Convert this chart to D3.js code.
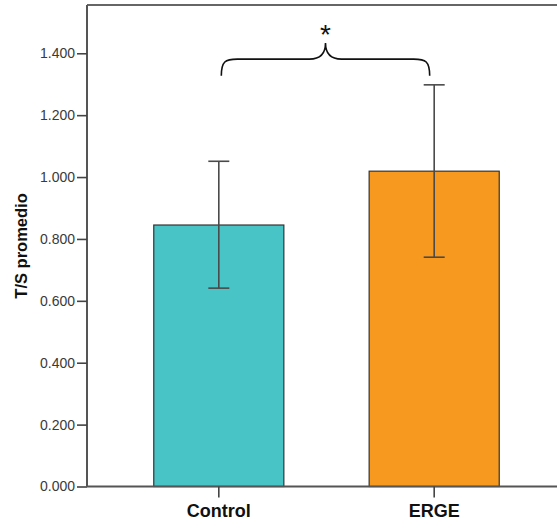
<!DOCTYPE html>
<html>
<head>
<meta charset="utf-8">
<script src="https://cdn.jsdelivr.net/npm/d3@7"></script>
<style>
  html, body { margin: 0; padding: 0; background: #fff; }
  svg { display: block; }
</style>
</head>
<body>
<svg id="chart" width="557" height="524"></svg>
<script>
// ---- data ----
const categories = ["Control", "ERGE"];
const means = [0.845, 1.019];
const errLow = [0.641, 0.741];
const errHigh = [1.051, 1.298];
const barColors = ["#48C3C6", "#F8991F"];
const yTicks = [0, 0.2, 0.4, 0.6, 0.8, 1.0, 1.2, 1.4];
const yTitle = "T/S promedio";
const signif = "*";
const braceLevels = [1.327, 1.381, 1.433]; // brace ends, arm, tip (in data units)

// ---- layout ----
const svg = d3.select("#chart");
const pLeft = 87, pTop = 5, pBottom = 486.5, pRight = 566;

const y = d3.scaleLinear().domain([0, 1.556]).range([pBottom, pTop]);
const x = d3.scaleBand().domain(categories).range([pLeft, pRight])
  .paddingInner(0.396).paddingOuter(0.31);

// frame (top border)
svg.append("line")
  .attr("x1", pLeft).attr("x2", 557)
  .attr("y1", pTop).attr("y2", pTop)
  .attr("stroke", "#666").attr("stroke-width", 2);

// bars
svg.selectAll("rect.bar").data(categories).enter().append("rect")
  .attr("class", "bar")
  .attr("x", d => x(d))
  .attr("y", (d, i) => y(means[i]))
  .attr("width", x.bandwidth())
  .attr("height", (d, i) => y(0) - y(means[i]))
  .attr("fill", (d, i) => barColors[i])
  .attr("stroke", "#333")
  .attr("stroke-width", 1.2);

// error bars
const capW = 21;
const eb = svg.selectAll("g.eb").data(categories).enter().append("g")
  .attr("class", "eb")
  .attr("stroke", "#4a4a4a")
  .attr("stroke-width", 1.6);
eb.append("line")
  .attr("x1", d => x(d) + x.bandwidth() / 2)
  .attr("x2", d => x(d) + x.bandwidth() / 2)
  .attr("y1", (d, i) => y(errLow[i]))
  .attr("y2", (d, i) => y(errHigh[i]));
eb.append("line")
  .attr("x1", d => x(d) + x.bandwidth() / 2 - capW / 2)
  .attr("x2", d => x(d) + x.bandwidth() / 2 + capW / 2)
  .attr("y1", (d, i) => y(errHigh[i]))
  .attr("y2", (d, i) => y(errHigh[i]));
eb.append("line")
  .attr("x1", d => x(d) + x.bandwidth() / 2 - capW / 2)
  .attr("x2", d => x(d) + x.bandwidth() / 2 + capW / 2)
  .attr("y1", (d, i) => y(errLow[i]))
  .attr("y2", (d, i) => y(errLow[i]));

// y axis
const yAxis = d3.axisLeft(y).tickValues(yTicks).tickFormat(d3.format(".3f"))
  .tickSize(10).tickPadding(2).tickSizeOuter(0);
const gy = svg.append("g").attr("transform", `translate(${pLeft},0)`).call(yAxis);
gy.select(".domain").attr("stroke", "#555").attr("stroke-width", 2)
  .attr("d", `M0,${pTop}V${pBottom}`);
gy.selectAll(".tick line").attr("stroke", "#444").attr("stroke-width", 1.6);
gy.selectAll(".tick text")
  .attr("fill", "#3a3a3a")
  .style("font-family", "Arial, 'Liberation Sans', sans-serif")
  .style("font-size", "14px");

// x axis
const xAxis = d3.axisBottom(x).tickSize(11).tickPadding(7).tickSizeOuter(0);
const gx = svg.append("g").attr("transform", `translate(0,${pBottom})`).call(xAxis);
gx.select(".domain").attr("stroke", "#555").attr("stroke-width", 2)
  .attr("d", `M${pLeft},0H557`);
gx.selectAll(".tick line").attr("stroke", "#444").attr("stroke-width", 1.6);
gx.selectAll(".tick text")
  .attr("fill", "#111")
  .style("font-family", "Arial, 'Liberation Sans', sans-serif")
  .style("font-size", "18px")
  .style("font-weight", "bold");

// y title
svg.append("text")
  .attr("transform", `translate(27,246) rotate(-90)`)
  .attr("text-anchor", "middle")
  .attr("fill", "#111")
  .style("font-family", "Arial, 'Liberation Sans', sans-serif")
  .style("font-size", "16.5px")
  .style("font-weight", "bold")
  .text(yTitle);

// significance brace
const bx0 = x(categories[0]) + x.bandwidth() / 2 + 2.5;
const bx1 = x(categories[1]) + x.bandwidth() / 2 - 4.5;
const bm = (bx0 + bx1) / 2;
const yEnd = y(braceLevels[0]), yArm = y(braceLevels[1]), yTip = y(braceLevels[2]);
const r = 16;
const p = d3.path();
p.moveTo(bx0, yEnd);
p.bezierCurveTo(bx0, yArm + 2, bx0 + 4, yArm, bx0 + r, yArm);
p.lineTo(bm - 16, yArm);
p.bezierCurveTo(bm - 5, yArm, bm, yArm - 6, bm, yTip);
p.bezierCurveTo(bm, yArm - 6, bm + 5, yArm, bm + 16, yArm);
p.lineTo(bx1 - r, yArm);
p.bezierCurveTo(bx1 - 4, yArm, bx1, yArm + 2, bx1, yEnd);
svg.append("path").attr("d", p.toString())
  .attr("fill", "none").attr("stroke", "#111").attr("stroke-width", 1.6);

svg.append("text")
  .attr("x", bm).attr("y", yTip + 1)
  .attr("text-anchor", "middle")
  .attr("fill", "#111")
  .style("font-family", "Arial, 'Liberation Sans', sans-serif")
  .style("font-size", "28px")
  .text(signif);
</script>
</body>
</html>
